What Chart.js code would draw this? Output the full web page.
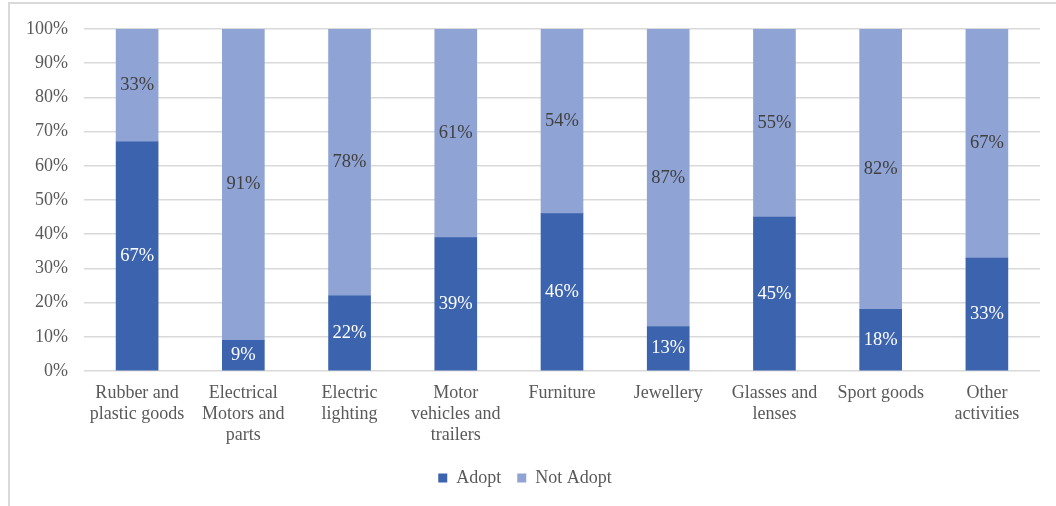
<!DOCTYPE html>
<html>
<head>
<meta charset="utf-8">
<script src="https://cdn.jsdelivr.net/npm/chart.js@4/dist/chart.umd.min.js"></script>
<style>
  html, body { margin: 0; padding: 0; background: #fff; }
  #wrap { position: relative; width: 1056px; height: 506px; overflow: hidden; }
  #frame {
    position: absolute; left: 8px; top: 2px; right: -4px; bottom: -4px;
    border-top: 2px solid #d9d9d9; border-left: 2px solid #d9d9d9;
  }
  #chart { position: absolute; left: 0; top: 0; }
</style>
</head>
<body>
<div id="wrap">
  <div id="frame"></div>
  <canvas id="chart" width="1056" height="506"></canvas>
</div>
<script>
categories = [
    ["Rubber and", "plastic goods"],
    ["Electrical", "Motors and", "parts"],
    ["Electric", "lighting"],
    ["Motor", "vehicles and", "trailers"],
    "Furniture",
    "Jewellery",
    ["Glasses and", "lenses"],
    "Sport goods",
    ["Other", "activities"]
];
adopt = [67, 9, 22, 39, 46, 13, 45, 18, 33];
notAdopt = [33, 91, 78, 61, 54, 87, 55, 82, 67];

FONT = "'Liberation Serif', 'Times New Roman', serif";
TEXT_GREY = "#595959";

// writes each segment's percentage in the middle of its bar piece
valueLabels = {
    id: 'valueLabels',
    afterDatasetsDraw(chart) {
        const ctx = chart.ctx;
        ctx.save();
        ctx.font = "18.5px " + FONT;
        ctx.textAlign = "center";
        ctx.textBaseline = "middle";
        chart.data.datasets.forEach((dataset, i) => {
            const meta = chart.getDatasetMeta(i);
            ctx.fillStyle = i === 0 ? "#ffffff" : "#404040";
            meta.data.forEach((bar, j) => {
                ctx.fillText(dataset.data[j] + "%", bar.x, (bar.y + bar.base) / 2);
            });
        });
        ctx.restore();
    }
};

new Chart(document.getElementById("chart"), {
    type: 'bar',
    data: {
        labels: categories,
        datasets: [{
            label: "Adopt",
            data: adopt,
            backgroundColor: "#3c63ae"
        }, {
            label: "Not Adopt",
            data: notAdopt,
            backgroundColor: "#8fa4d4"
        }]
    },
    options: {
        responsive: false,
        animation: false,
        devicePixelRatio: 1,
        barThickness: 42,
        layout: { padding: { left: 10, right: 16, top: 29, bottom: 9 } },
        scales: {
            x: {
                stacked: true,
                grid: { display: false },
                border: { display: false },
                ticks: { color: TEXT_GREY, font: { family: FONT, size: 18, lineHeight: 1.17 }, padding: 4, maxRotation: 0, autoSkip: false },
                afterFit: axis => { axis.height = 82; }
            },
            y: {
                stacked: true,
                min: 0,
                max: 100,
                grid: { color: "#d9d9d9", lineWidth: 1.5, drawTicks: false },
                border: { display: false },
                ticks: {
                    stepSize: 10,
                    padding: 16,
                    color: TEXT_GREY,
                    font: { family: FONT, size: 18 },
                    callback: v => v + "%"
                },
                afterFit: axis => { axis.width = 74; }
            }
        },
        plugins: {
            legend: {
                position: 'bottom',
                labels: {
                    boxWidth: 9,
                    boxHeight: 9,
                    padding: 16,
                    color: TEXT_GREY,
                    font: { family: FONT, size: 18 }
                }
            },
            tooltip: { enabled: false }
        }
    },
    plugins: [valueLabels]
});
</script>
</body>
</html>
